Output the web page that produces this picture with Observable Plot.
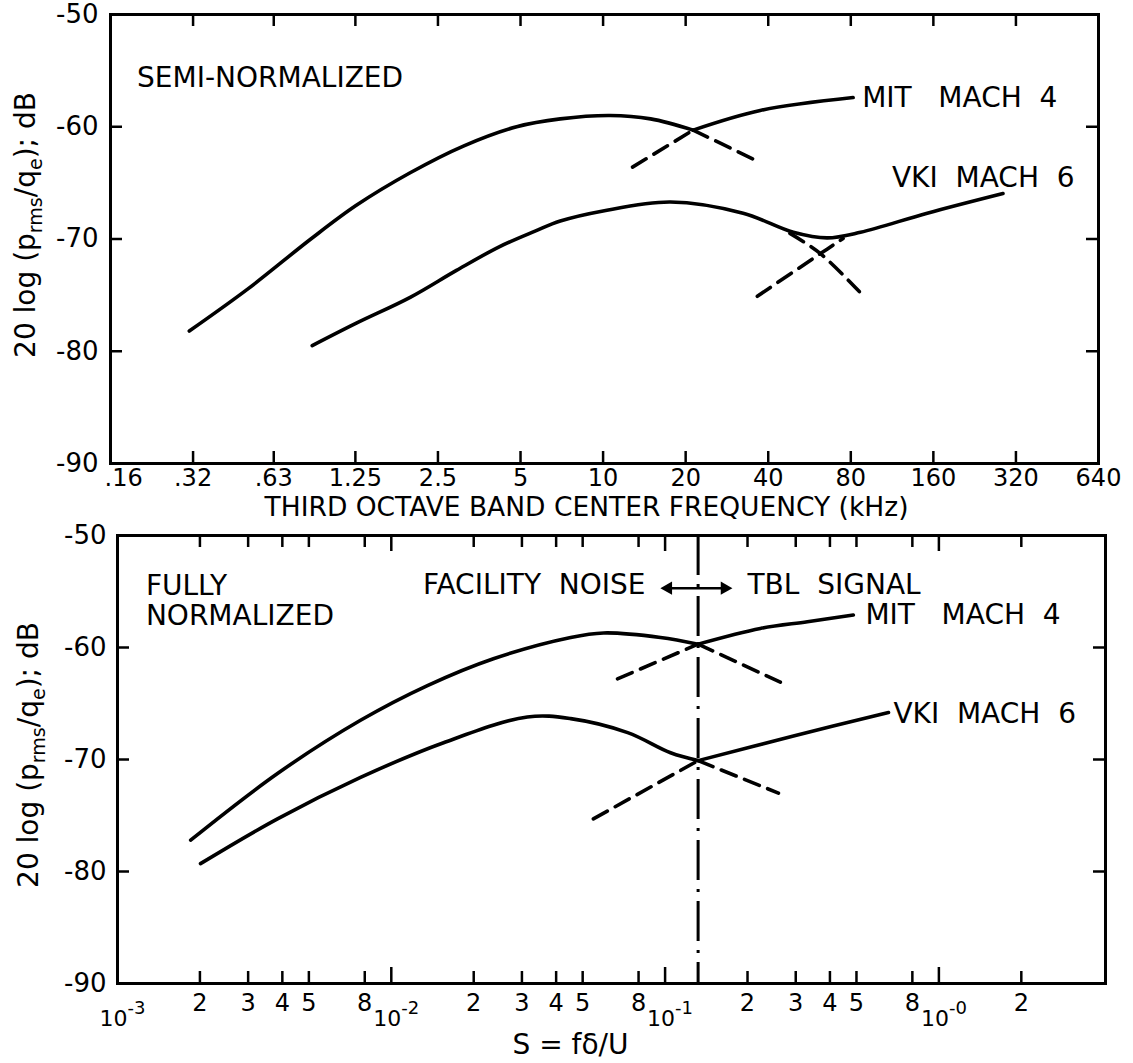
<!DOCTYPE html>
<html>
<head>
<meta charset="utf-8">
<script src="https://cdn.jsdelivr.net/npm/d3@7"></script>
<script src="https://cdn.jsdelivr.net/npm/@observablehq/plot@0.6"></script>
<style>
  body { margin: 0; background: #fff; }
  #chart { width: 1133px; }
  #chart svg { display: block; }
</style>
</head>
<body>
<div id="chart"></div>
<script>
const FONT = "DejaVu Sans";

// ---------- shared y axis ----------
const dbTicks = [-50, -60, -70, -80, -90];
const dbInnerTicks = [-60, -70, -80];

// ---------- top panel: semi-normalized (x = third octave band centre frequency, kHz) ----------
const freqTicks = [0.16, 0.32, 0.63, 1.25, 2.5, 5, 10, 20, 40, 80, 160, 320, 640];
const freqTickLabels = [".16", ".32", ".63", "1.25", "2.5", "5", "10", "20", "40", "80", "160", "320", "640"];
const freqTitle = "THIRD OCTAVE BAND CENTER FREQUENCY (kHz)";

const semiMitPeak = [[0.31, -78.2], [0.51, -74.4], [0.86, -70.0], [1.26, -67.0], [1.98, -64.1], [3.11, -61.7], [4.84, -60.0], [6.98, -59.3], [10.6, -59.0], [14.9, -59.3], [21.3, -60.3]];
const semiMitSignal = [[21.3, -60.3], [37.4, -58.55], [81.6, -57.4]];
const semiMitDashFall = [[21.3, -60.3], [36.8, -63.1]];
const semiMitDashRise = [[12.8, -63.6], [21.3, -60.3]];
const semiVki = [[0.87, -79.5], [1.26, -77.5], [1.98, -75.2], [2.92, -72.8], [4.18, -70.7], [5.65, -69.3], [6.98, -68.4], [10, -67.5], [17.6, -66.7], [32.4, -67.7], [49.4, -69.4], [65.6, -69.9], [86.8, -69.4], [152, -67.7], [287, -65.95]];
const semiVkiDashFall = [[48, -69.5], [62, -71.3], [86.8, -74.8]];
const semiVkiDashRise = [[36.5, -75.1], [62, -71.3], [75, -69.95]];

const semiNotes = [
  {x: 0.2, y: -55.7, text: "SEMI-NORMALIZED"},
  {x: 88, y: -57.4, text: "MIT\u00A0\u00A0\u00A0MACH\u00A0\u00A04"},
  {x: 113, y: -64.6, text: "VKI\u00A0\u00A0MACH\u00A0\u00A06"}
];

// ---------- bottom panel: fully normalized (x = S = f delta / U) ----------
const sMinorTicks = [0.002, 0.003, 0.004, 0.005, 0.008, 0.02, 0.03, 0.04, 0.05, 0.08, 0.2, 0.3, 0.4, 0.5, 0.8, 2];
const sMinorLabels = ["2", "3", "4", "5", "8", "2", "3", "4", "5", "8", "2", "3", "4", "5", "8", "2"];
const sDecadeTicks = [0.001, 0.01, 0.1, 1];
const sDecadeBase = ["10", "10", "10", "10"];
const sDecadeExp = ["-3", "-2", "-1", "-0"];
const sTitle = "S = f\u03B4/U";
const sDivide = [0.132];

const fullMitPeak = [[0.00185, -77.2], [0.00384, -71.25], [0.00772, -66.5], [0.01355, -63.4], [0.0236, -61.0], [0.0452, -59.1], [0.0596, -58.7], [0.0962, -59.1], [0.132, -59.7]];
const fullMitSignal = [[0.132, -59.7], [0.2228, -58.3], [0.331, -57.7], [0.487, -57.1]];
const fullMitDashFall = [[0.132, -59.7], [0.2636, -63.1]];
const fullMitDashRise = [[0.067, -62.8], [0.132, -59.7]];
const fullVkiPeak = [[0.00201, -79.3], [0.00384, -75.3], [0.00772, -71.6], [0.01552, -68.5], [0.0314, -66.2], [0.0452, -66.35], [0.073, -67.6], [0.1047, -69.4], [0.132, -70.1]];
const fullVkiSignal = [[0.132, -70.1], [0.2944, -67.9], [0.6546, -65.8]];
const fullVkiDashFall = [[0.132, -70.1], [0.2594, -73.0]];
const fullVkiDashRise = [[0.0547, -75.3], [0.132, -70.1]];

const fullNotesLeft = [
  {x: 0.00127, y: -54.5, text: "FULLY"},
  {x: 0.00127, y: -57.2, text: "NORMALIZED"},
  {x: 0.2, y: -54.4, text: "TBL\u00A0\u00A0SIGNAL"},
  {x: 0.539, y: -57.1, text: "MIT\u00A0\u00A0\u00A0MACH\u00A0\u00A04"},
  {x: 0.682, y: -65.9, text: "VKI\u00A0\u00A0MACH\u00A0\u00A06"}
];
const fullNotesRight = [
  {x: 0.0848, y: -54.4, text: "FACILITY\u00A0\u00A0NOISE"}
];
const arrowShaft = [{x1: 0.099, x2: 0.171, y: -54.7}];
const arrowHeads = [{x: 0.1026, y: -54.7, rot: -90}, {x: 0.165, y: -54.7, rot: 90}];

// ---------- helpers ----------
const px = d => d[0], py = d => d[1];
const solid = (data) => Plot.line(data, {x: px, y: py, curve: "catmull-rom", stroke: "black", strokeWidth: 3.6, strokeLinecap: "round", strokeLinejoin: "round"});
const dashed = (data) => Plot.line(data, {x: px, y: py, curve: "catmull-rom", stroke: "black", strokeWidth: 3.6, strokeDasharray: "16,9"});

function yTitle(svgNode, cx, cy) {
  const t = d3.select(svgNode).append("text")
    .attr("transform", `translate(${cx},${cy}) rotate(-90)`)
    .attr("text-anchor", "middle")
    .attr("font-family", FONT)
    .attr("font-size", 28)
    .attr("fill", "black");
  t.append("tspan").text("20 log (p");
  t.append("tspan").attr("font-size", 19).attr("dy", 7).text("rms");
  t.append("tspan").attr("dy", -7).text("/q");
  t.append("tspan").attr("font-size", 19).attr("dy", 7).text("e");
  t.append("tspan").attr("dy", -7).text("); dB");
}

// ---------- top chart ----------
const TOP_H = 522, TOP_ML = 110, TOP_MR = 35, TOP_MT = 14, TOP_MB = 59;
const topFrameH = TOP_H - TOP_MT - TOP_MB;
const topFrameW = 1133 - TOP_ML - TOP_MR;
const freqLabel = (d) => freqTickLabels[freqTicks.indexOf(d)];

const topChart = Plot.plot({
  width: 1133,
  height: TOP_H,
  marginLeft: TOP_ML, marginRight: TOP_MR, marginTop: TOP_MT, marginBottom: TOP_MB,
  style: {fontFamily: FONT, background: "white", color: "black", overflow: "visible"},
  x: {type: "log", domain: [0.16, 640], axis: null},
  y: {domain: [-90, -50]},
  marks: [
    Plot.ruleX(freqTicks.slice(1, -1), {insetTop: topFrameH - 12, strokeWidth: 2.5}),
    Plot.ruleX(freqTicks.slice(1, -1), {insetBottom: topFrameH - 12, strokeWidth: 2.5}),
    Plot.ruleY(dbInnerTicks, {insetRight: topFrameW - 12, strokeWidth: 2.5}),
    Plot.ruleY(dbInnerTicks, {insetLeft: topFrameW - 12, strokeWidth: 2.5}),
    Plot.text(freqTicks.slice(0, 1), {x: d => d, text: freqLabel, frameAnchor: "bottom", lineAnchor: "middle", textAnchor: "start", dx: -6, dy: 15, fontSize: 24, fill: "black"}),
    Plot.text(freqTicks.slice(1), {x: d => d, text: freqLabel, frameAnchor: "bottom", lineAnchor: "middle", dy: 15, fontSize: 24, fill: "black"}),
    Plot.axisY({ticks: dbTicks, tickSize: 0, tickPadding: 12, fontSize: 26, label: null,
      tickFormat: d => "-" + (-d)}),
    Plot.frame({strokeWidth: 3}),
    solid(semiMitPeak),
    solid(semiMitSignal),
    dashed(semiMitDashFall),
    dashed(semiMitDashRise),
    solid(semiVki),
    dashed(semiVkiDashFall),
    dashed(semiVkiDashRise),
    Plot.text(semiNotes, {x: "x", y: "y", text: "text", textAnchor: "start", fontSize: 28, fill: "black"}),
    Plot.text([freqTitle], {text: d => d, frameAnchor: "bottom", lineAnchor: "middle", dy: 44.5, dx: -18, fontSize: 26.5, fill: "black"})
  ]
});
yTitle(topChart, 35, 225);

// ---------- bottom chart ----------
const BOT_H = 541, BOT_ML = 117, BOT_MR = 28, BOT_MT = 13, BOT_MB = 80;
const botFrameH = BOT_H - BOT_MT - BOT_MB;
const botFrameW = 1133 - BOT_ML - BOT_MR;

const botChart = Plot.plot({
  width: 1133,
  height: BOT_H,
  marginLeft: BOT_ML, marginRight: BOT_MR, marginTop: BOT_MT, marginBottom: BOT_MB,
  style: {fontFamily: FONT, background: "white", color: "black", overflow: "visible"},
  x: {type: "log", domain: [0.001, 4.06], axis: null},
  y: {domain: [-90, -50]},
  marks: [
    Plot.ruleX(sMinorTicks, {insetTop: botFrameH - 12, strokeWidth: 2.5}),
    Plot.ruleX(sMinorTicks, {insetBottom: botFrameH - 12, strokeWidth: 2.5}),
    Plot.ruleX(sDecadeTicks.slice(1), {insetTop: botFrameH - 16, strokeWidth: 2.5}),
    Plot.ruleX(sDecadeTicks.slice(1), {insetBottom: botFrameH - 16, strokeWidth: 2.5}),
    Plot.ruleY(dbInnerTicks, {insetRight: botFrameW - 12, strokeWidth: 2.5}),
    Plot.ruleY(dbInnerTicks, {insetLeft: botFrameW - 12, strokeWidth: 2.5}),
    Plot.text(sMinorTicks, {x: d => d, text: (d, i) => sMinorLabels[i], frameAnchor: "bottom", lineAnchor: "middle", dy: 20, fontSize: 24, fill: "black"}),
    Plot.text(sDecadeTicks, {x: d => d, text: (d, i) => sDecadeBase[i], frameAnchor: "bottom", lineAnchor: "middle", textAnchor: "end", dx: 10, dy: 35, fontSize: 22, fill: "black"}),
    Plot.text(sDecadeTicks, {x: d => d, text: (d, i) => sDecadeExp[i], frameAnchor: "bottom", lineAnchor: "middle", textAnchor: "start", dx: 10, dy: 25, fontSize: 18, fill: "black"}),
    Plot.axisY({ticks: dbTicks, tickSize: 0, tickPadding: 11, fontSize: 26, label: null,
      tickFormat: d => "-" + (-d)}),
    Plot.frame({strokeWidth: 3}),
    Plot.ruleX(sDivide, {strokeWidth: 3, strokeDasharray: "40,9,3,9"}),
    solid(fullMitPeak),
    solid(fullMitSignal),
    dashed(fullMitDashFall),
    dashed(fullMitDashRise),
    solid(fullVkiPeak),
    solid(fullVkiSignal),
    dashed(fullVkiDashFall),
    dashed(fullVkiDashRise),
    Plot.link(arrowShaft, {x1: "x1", x2: "x2", y1: "y", y2: "y", stroke: "black", strokeWidth: 2.5}),
    Plot.dot(arrowHeads, {x: "x", y: "y", rotate: "rot", symbol: "triangle", r: 5, fill: "black", stroke: null}),
    Plot.text(fullNotesLeft, {x: "x", y: "y", text: "text", textAnchor: "start", fontSize: 28, fill: "black"}),
    Plot.text(fullNotesRight, {x: "x", y: "y", text: "text", textAnchor: "end", fontSize: 28, fill: "black"}),
    Plot.text([sTitle], {text: d => d, frameAnchor: "bottom", lineAnchor: "middle", dy: 62, dx: -41, fontSize: 28, fill: "black"})
  ]
});
yTitle(botChart, 38, 233);

const root = document.getElementById("chart");
root.appendChild(topChart);
root.appendChild(botChart);
</script>
</body>
</html>
